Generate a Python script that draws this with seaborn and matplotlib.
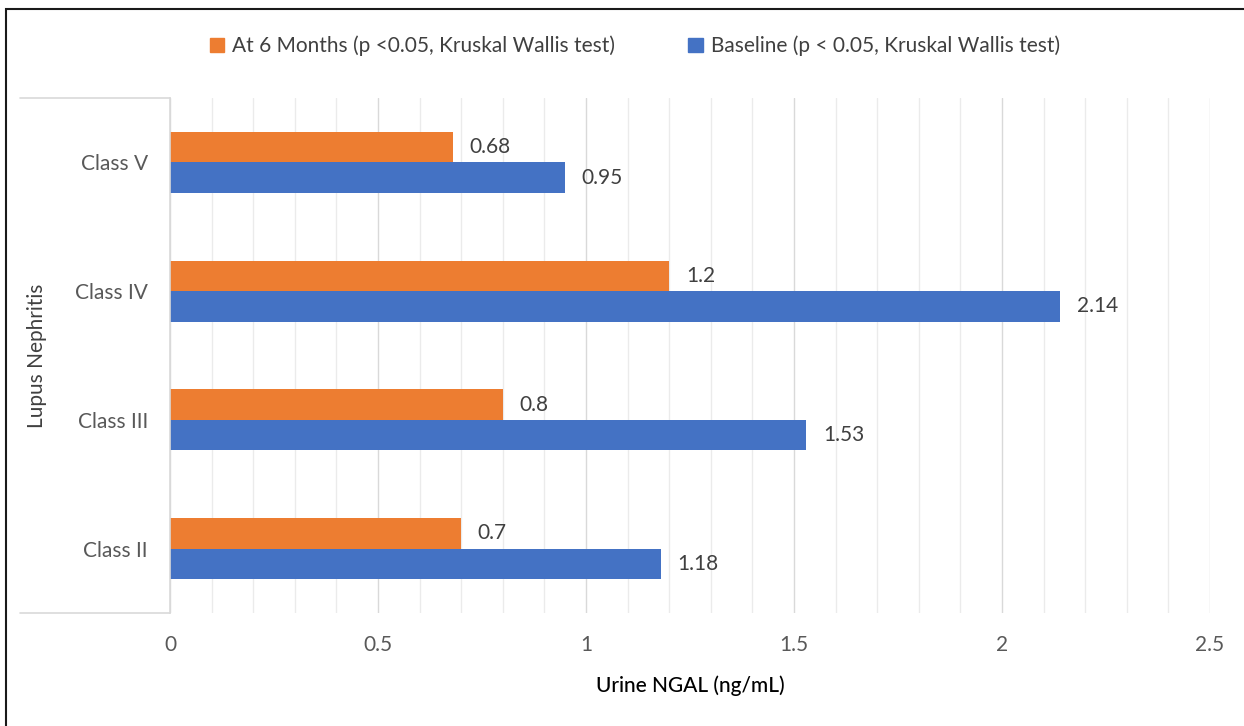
import matplotlib
matplotlib.use("Agg")
import matplotlib.pyplot as plt
from matplotlib.lines import Line2D
from matplotlib.patches import Rectangle
from matplotlib.ticker import MultipleLocator
import seaborn as sns
import pandas as pd

categories = ["Class V", "Class IV", "Class III", "Class II"]
series_names = ["At 6 Months (p <0.05, Kruskal Wallis test)",
                "Baseline (p < 0.05, Kruskal Wallis test)"]
at_6_months = [0.68, 1.2, 0.8, 0.7]
baseline = [0.95, 2.14, 1.53, 1.18]
x_ticks = [0, 0.5, 1, 1.5, 2, 2.5]
colors = ["#ED7D31", "#4472C4"]

df = pd.DataFrame({
    "cls": categories * 2,
    "value": at_6_months + baseline,
    "series": [series_names[0]] * 4 + [series_names[1]] * 4,
})

sns.set_theme(style="white")
plt.rcParams["font.family"] = ["Lato", "DejaVu Sans"]

FS = 15
W, H = 1244, 726
fig = plt.figure(figsize=(W / 100, H / 100), dpi=100)
ax = fig.add_axes([170 / W, 1 - 613 / H, 1040 / W, (613 - 98) / H])

sns.barplot(data=df, y="cls", x="value", hue="series", order=categories,
            hue_order=series_names, palette=colors, orient="h", width=0.475,
            saturation=1, linewidth=0, ax=ax, legend=True)

ax.set_xlim(0, 2.5)
ax.set_ylim(3.5, -0.5)
ax.set_xticks(x_ticks)
ax.set_xticklabels([f"{t:g}" for t in x_ticks])
ax.xaxis.set_minor_locator(MultipleLocator(0.1))
ax.grid(True, axis="x", which="minor", color="#EBEBEB", linewidth=1)
ax.grid(True, axis="x", which="major", color="#D9D9D9", linewidth=1)
ax.set_axisbelow(True)
for s in ["top", "right", "bottom"]:
    ax.spines[s].set_visible(False)
ax.spines["left"].set_color("#D9D9D9")
ax.spines["left"].set_linewidth(1.2)
ax.tick_params(axis="both", which="both", length=0)
ax.tick_params(axis="x", pad=16, labelsize=FS, labelcolor="#595959")
ax.tick_params(axis="y", pad=16, labelsize=FS, labelcolor="#595959")

for cont in ax.containers:
    ax.bar_label(cont, fmt="{:g}", padding=12, fontsize=FS, color="#404040")

ax.set_xlabel("Urine NGAL (ng/mL)", fontsize=FS, color="#000000",
              fontweight="medium")
ax.xaxis.set_label_coords(0.5, (613 - 675) / 515)
ax.set_ylabel("Lupus Nephritis", fontsize=FS, color="#404040")
ax.yaxis.set_label_coords((47 - 170) / 1040, 0.5)

# category box lines (Excel multi-level axis)
x0 = (20 - 170) / 1040
for yy in [0, 1]:
    ax.add_line(Line2D([x0, 0], [yy, yy], transform=ax.transAxes,
                       color="#D9D9D9", linewidth=1.2, clip_on=False))

if ax.get_legend() is not None:
    ax.get_legend().remove()
handles = [Rectangle((0, 0), 1, 1, color=c) for c in colors]
fig.legend(handles, series_names, loc="center", bbox_to_anchor=(635 / W, 1 - 46 / H),
           ncol=2, frameon=False, fontsize=FS, handlelength=0.7, handleheight=0.7,
           handletextpad=0.4, columnspacing=3.5, labelcolor="#404040")

# figure border (cropped at right/bottom)
fig.patches.append(Rectangle((6 / W, -0.1), 2, 1.1 - 8.5 / H, transform=fig.transFigure,
                             fill=False, edgecolor="#1a1a1a", linewidth=1.5))

fig.savefig("out.png", dpi=100)
